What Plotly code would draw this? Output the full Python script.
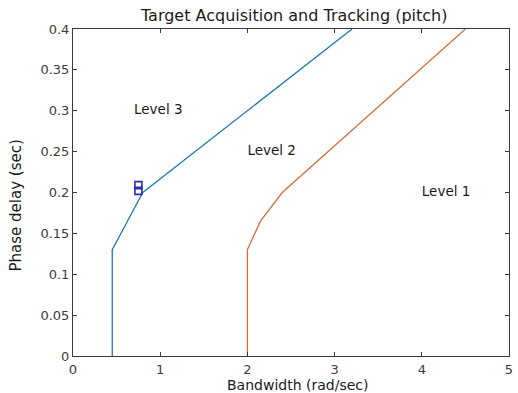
import plotly.graph_objects as go

# Level 3 / Level 2 boundary (bandwidth rad/sec vs phase delay sec)
l32_bw = [0.45, 0.45, 0.6, 0.8, 3.2]
l32_tau = [0.0, 0.13, 0.16, 0.2, 0.4]

# Level 2 / Level 1 boundary
l21_bw = [2.0, 2.0, 2.15, 2.4, 4.5]
l21_tau = [0.0, 0.13, 0.165, 0.2, 0.4]

# Measured points
pts_bw = [0.75, 0.75]
pts_tau = [0.209, 0.202]

# Region labels
lbl_text = ["Level 3", "Level 2", "Level 1"]
lbl_x = [0.7, 2.0, 4.0]
lbl_y = [0.3, 0.25, 0.2]

FONT = "DejaVu Sans, Verdana, sans-serif"

fig = go.Figure()
fig.add_trace(go.Scatter(x=l32_bw, y=l32_tau, mode="lines",
                         line=dict(color="#1a78b8", width=1.3), showlegend=False))
fig.add_trace(go.Scatter(x=l21_bw, y=l21_tau, mode="lines",
                         line=dict(color="#d2703a", width=1.3), showlegend=False))
fig.add_trace(go.Scatter(x=pts_bw, y=pts_tau, mode="markers",
                         marker=dict(symbol="square-open", size=7, color="#2a2ab8",
                                     line=dict(width=1.6)),
                         showlegend=False))
fig.add_trace(go.Scatter(x=lbl_x, y=lbl_y, mode="text", text=lbl_text,
                         textposition="middle right",
                         textfont=dict(family=FONT, size=13.5, color="#1a1a1a"),
                         showlegend=False))

axis_common = dict(showgrid=False, zeroline=False, showline=True, mirror="ticks",
                   linecolor="#3a3a3a", linewidth=1, ticks="inside", ticklen=4,
                   tickcolor="#3a3a3a",
                   tickfont=dict(family=FONT, size=13, color="#3c3c3c"))

fig.update_layout(
    width=518, height=393,
    margin=dict(l=73, r=5, t=29, b=37),
    paper_bgcolor="white", plot_bgcolor="white",
    title=dict(text="Target Acquisition and Tracking (pitch)", x=0.568, xanchor="center",
               y=1 - 15 / 393, yanchor="middle",
               font=dict(family=FONT, size=16, color="#1a1a1a")),
    xaxis=dict(range=[0, 5], tickvals=[0, 1, 2, 3, 4, 5], ticklabelstandoff=1,
               **axis_common),
    yaxis=dict(range=[0, 0.4], tickvals=[0, 0.05, 0.1, 0.15, 0.2, 0.25, 0.3, 0.35, 0.4],
               ticktext=["0", "0.05", "0.1", "0.15", "0.2", "0.25", "0.3", "0.35", "0.4"],
               **axis_common),
    annotations=[
        dict(text="Bandwidth (rad/sec)", xref="paper", yref="paper",
             x=0.516, y=-28.5 / 327, xanchor="center", yanchor="middle", showarrow=False,
             borderpad=0,
             font=dict(family=FONT, size=14, color="#1a1a1a")),
        dict(text="Phase delay (sec)", xref="paper", yref="paper",
             x=(15 - 73) / 440, y=(356 - 206) / 327, xanchor="center", yanchor="middle",
             textangle=-90, showarrow=False, borderpad=0,
             font=dict(family=FONT, size=15, color="#1a1a1a")),
    ],
)

fig.write_html("out.html")
